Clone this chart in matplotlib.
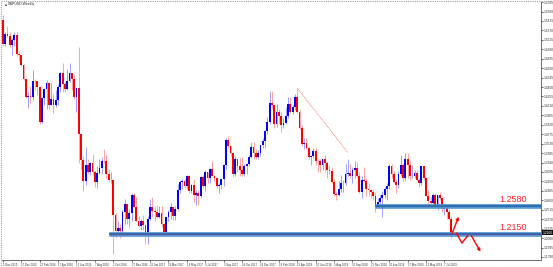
import matplotlib
matplotlib.use("Agg")
import matplotlib.pyplot as plt
from matplotlib.patches import Rectangle
import numpy as np

plt.rcParams["font.family"] = ["Liberation Sans", "DejaVu Sans"]

# ---------------- data: GBPUSD weekly candles (week starting 1 Nov 2015) ----------------
first_open = 1.5425
closes = [
    1.5063, 1.5215, 1.5190, 1.5040, 1.5125, 1.5200, 1.4900, 1.4885, 1.4735, 1.4525,
    1.4250, 1.4265, 1.4245, 1.4500, 1.4495, 1.4400, 1.3870, 1.4225, 1.4370, 1.4460,
    1.4130, 1.4220, 1.4120, 1.4200, 1.4400, 1.4615, 1.4440, 1.4370, 1.4500, 1.4620,
    1.4520, 1.4250, 1.4390, 1.3680, 1.3275, 1.2950, 1.3200, 1.3100, 1.3230, 1.3100,
    1.2940, 1.3075, 1.3160, 1.3270, 1.3265, 1.3060, 1.2970, 1.2970, 1.2430, 1.2190,
    1.2230, 1.2190, 1.2480, 1.2600, 1.2370, 1.2470, 1.2740, 1.2560, 1.2350, 1.2270,
    1.2340, 1.2280, 1.2180, 1.2370, 1.2560, 1.2490, 1.2480, 1.2410, 1.2460, 1.2290,
    1.2170, 1.2400, 1.2480, 1.2550, 1.2420, 1.2530, 1.2820, 1.2940, 1.2960, 1.2880,
    1.3030, 1.2800, 1.2890, 1.2740, 1.2780, 1.2720, 1.3020, 1.2880, 1.3090, 1.3000,
    1.3140, 1.3040, 1.3010, 1.2880, 1.2900, 1.2990, 1.3200, 1.3590, 1.3490, 1.3390,
    1.3060, 1.3290, 1.3190, 1.3130, 1.3060, 1.3190, 1.3220, 1.3330, 1.3480, 1.3390,
    1.3330, 1.3380, 1.3510, 1.3570, 1.3720, 1.3860, 1.4160, 1.4120, 1.3830, 1.4020,
    1.3960, 1.3810, 1.3840, 1.3950, 1.4140, 1.4020, 1.4090, 1.4240, 1.4010, 1.3770,
    1.3530, 1.3540, 1.3470, 1.3320, 1.3340, 1.3410, 1.3270, 1.3260, 1.3200, 1.3290,
    1.3230, 1.3130, 1.3110, 1.2940, 1.2760, 1.2740, 1.2840, 1.2920, 1.2930, 1.3070,
    1.3080, 1.3030, 1.3130, 1.3150, 1.3040, 1.2790, 1.2970, 1.2960, 1.2830, 1.2820,
    1.2790, 1.2730, 1.2580, 1.2640, 1.2700, 1.2740, 1.2840, 1.2880, 1.3190, 1.3070,
    1.2940, 1.2890, 1.3060, 1.3200, 1.3010, 1.3290, 1.3210, 1.3030, 1.3040, 1.3080,
    1.2970, 1.2920, 1.3180, 1.3000, 1.2720, 1.2650, 1.2620, 1.2740, 1.2590, 1.2740,
    1.2690, 1.2520, 1.2570, 1.2480, 1.2375, 1.2160,
]
highs = [
    1.5508, 1.5240, 1.5336, 1.5245, 1.5160, 1.5240, 1.5240, 1.4960, 1.4900, 1.4750,
    1.4530, 1.4330, 1.4410, 1.4665, 1.4530, 1.4460, 1.4410, 1.4250, 1.4390, 1.4515,
    1.4460, 1.4460, 1.4300, 1.4350, 1.4440, 1.4635, 1.4770, 1.4470, 1.4670, 1.4770,
    1.4620, 1.4590, 1.4350, 1.5018, 1.3530, 1.3345, 1.3480, 1.3300, 1.3250, 1.3375,
    1.3125, 1.3185, 1.3290, 1.3330, 1.3445, 1.3355, 1.3140, 1.3100, 1.2970, 1.2470,
    1.2335, 1.2300, 1.2510, 1.2675, 1.2600, 1.2520, 1.2775, 1.2775, 1.2710, 1.2420,
    1.2375, 1.2430, 1.2280, 1.2415, 1.2675, 1.2705, 1.2570, 1.2585, 1.2570, 1.2570,
    1.2310, 1.2400, 1.2515, 1.2615, 1.2550, 1.2580, 1.2905, 1.2965, 1.2990, 1.2985,
    1.3050, 1.3050, 1.2915, 1.2980, 1.2815, 1.2815, 1.3030, 1.3050, 1.3125, 1.3090,
    1.3150, 1.3270, 1.3050, 1.3000, 1.2930, 1.2990, 1.3225, 1.3615, 1.3655, 1.3510,
    1.3400, 1.3340, 1.3290, 1.3315, 1.3320, 1.3220, 1.3230, 1.3360, 1.3550, 1.3550,
    1.3445, 1.3440, 1.3515, 1.3615, 1.3745, 1.3945, 1.4345, 1.4345, 1.4125, 1.4145,
    1.4070, 1.4020, 1.3930, 1.4090, 1.4245, 1.4245, 1.4120, 1.4290, 1.4377, 1.4050,
    1.3810, 1.3620, 1.3615, 1.3475, 1.3360, 1.3470, 1.3470, 1.3290, 1.3300, 1.3300,
    1.3360, 1.3260, 1.3210, 1.3175, 1.2980, 1.2790, 1.2960, 1.3050, 1.2965, 1.3215,
    1.3300, 1.3215, 1.3175, 1.3260, 1.3250, 1.3090, 1.3040, 1.3175, 1.3010, 1.2930,
    1.2840, 1.2840, 1.2790, 1.2690, 1.2740, 1.2800, 1.2860, 1.2930, 1.3220, 1.3215,
    1.3110, 1.2990, 1.3110, 1.3350, 1.3240, 1.3380, 1.3380, 1.3265, 1.3195, 1.3120,
    1.3120, 1.3000, 1.3180, 1.3180, 1.3000, 1.2815, 1.2710, 1.2765, 1.2765, 1.2740,
    1.2785, 1.2700, 1.2580, 1.2580, 1.2520, 1.2420,
]
lows = [
    1.5025, 1.5030, 1.5170, 1.5017, 1.4895, 1.5030, 1.4880, 1.4805, 1.4720, 1.4515,
    1.4230, 1.4080, 1.4150, 1.4200, 1.4355, 1.4270, 1.3835, 1.3840, 1.4130, 1.4055,
    1.4055, 1.4125, 1.4005, 1.4090, 1.4120, 1.4330, 1.4330, 1.4330, 1.4350, 1.4480,
    1.4350, 1.4210, 1.4010, 1.3229, 1.3120, 1.2800, 1.2900, 1.3060, 1.3055, 1.3050,
    1.2865, 1.2850, 1.3060, 1.3070, 1.3230, 1.3000, 1.2945, 1.2925, 1.1841, 1.2085,
    1.2155, 1.2080, 1.2110, 1.2300, 1.2300, 1.2250, 1.2350, 1.2550, 1.2340, 1.2250,
    1.2200, 1.2200, 1.1985, 1.1985, 1.2360, 1.2400, 1.2345, 1.2385, 1.2385, 1.2245,
    1.2110, 1.2110, 1.2340, 1.2380, 1.2365, 1.2365, 1.2515, 1.2770, 1.2840, 1.2845,
    1.2840, 1.2775, 1.2770, 1.2635, 1.2590, 1.2590, 1.2690, 1.2845, 1.2810, 1.2930,
    1.2930, 1.3030, 1.2950, 1.2845, 1.2775, 1.2840, 1.2880, 1.3140, 1.3460, 1.3340,
    1.3025, 1.3030, 1.3100, 1.3040, 1.3040, 1.3040, 1.3060, 1.3180, 1.3310, 1.3300,
    1.3300, 1.3300, 1.3345, 1.3460, 1.3460, 1.3680, 1.3830, 1.4065, 1.3765, 1.3790,
    1.3855, 1.3710, 1.3770, 1.3830, 1.3930, 1.4000, 1.3985, 1.4050, 1.4000, 1.3750,
    1.3490, 1.3450, 1.3455, 1.3300, 1.3205, 1.3310, 1.3205, 1.3100, 1.3100, 1.3130,
    1.3100, 1.3010, 1.3060, 1.2920, 1.2725, 1.2660, 1.2730, 1.2790, 1.2785, 1.2895,
    1.3040, 1.3000, 1.2920, 1.3000, 1.3020, 1.2780, 1.2695, 1.2940, 1.2725, 1.2720,
    1.2700, 1.2660, 1.2475, 1.2575, 1.2610, 1.2400, 1.2700, 1.2670, 1.2840, 1.3000,
    1.2925, 1.2770, 1.2850, 1.3040, 1.2960, 1.2960, 1.3005, 1.2975, 1.3000, 1.3000,
    1.2960, 1.2865, 1.2900, 1.2970, 1.2720, 1.2605, 1.2560, 1.2560, 1.2590, 1.2505,
    1.2660, 1.2480, 1.2440, 1.2380, 1.2380, 1.2080,
]

date_tick_idx = [0, 8, 16, 24, 32, 40, 48, 56, 64, 72, 80, 88, 96, 104, 112, 120,
                 128, 136, 144, 152, 160, 168, 176, 184, 192]
date_labels = ["1 Nov 2015", "27 Dec 2015", "21 Feb 2016", "17 Apr 2016", "12 Jun 2016",
               "7 Aug 2016", "2 Oct 2016", "27 Nov 2016", "22 Jan 2017", "19 Mar 2017",
               "14 May 2017", "9 Jul 2017", "3 Sep 2017", "29 Oct 2017", "24 Dec 2017",
               "18 Feb 2018", "15 Apr 2018", "10 Jun 2018", "5 Aug 2018", "30 Sep 2018",
               "25 Nov 2018", "20 Jan 2019", "17 Mar 2019", "12 May 2019", "7 Jul 2019"]
price_ticks = [1.1790, 1.1935, 1.2080, 1.2225, 1.2370, 1.2515, 1.2660, 1.2805, 1.2950,
               1.3095, 1.3240, 1.3385, 1.3530, 1.3675, 1.3820, 1.3965, 1.4110, 1.4255,
               1.4400, 1.4545, 1.4690, 1.4835, 1.4980, 1.5125, 1.5270, 1.5415, 1.5560,
               1.5705]

level_values = [1.2580, 1.2150]
level_labels = ["1.2580", "1.2150"]
level_start_idx = [162, 46]
current_price = 1.2160

# drawn trend / arrow annotations (index, price)
up_arrow = ([195.4, 198.2], [1.2158, 1.2408])
zigzag = ([197.3, 199.6, 202.1], [1.2153, 1.2004, 1.2116])
down_arrow = ([203.7, 207.7], [1.2116, 1.1870])
dotted_trend = ([128, 150], [1.4385, 1.3395])

# ---------------- figure ----------------
W, H = 553, 267
fig = plt.figure(figsize=(W / 100, H / 100), dpi=100, facecolor="white")
ax = fig.add_axes([1.5 / W, (H - 259.5) / H, (541 - 1.5) / W, (259.5 - 2) / H])
ax.set_facecolor("white")

closes_a = np.array(closes)
opens_a = np.concatenate([[first_open], closes_a[:-1]])
highs_a = np.array(highs)
lows_a = np.array(lows)
x = np.arange(len(closes_a))
bull = closes_a >= opens_a
body_col = np.where(bull, "#0000ff", "#ff0000")
wick_col = np.where(bull, "#8585ff", "#ff8a8a")

ax.vlines(x, lows_a, highs_a, colors=wick_col, linewidth=0.55, zorder=2)
heights = np.maximum(np.abs(closes_a - opens_a), 0.0004)
ax.bar(x, heights, bottom=np.minimum(opens_a, closes_a), width=0.8,
       color=body_col, linewidth=0, zorder=3)

xmax = 234
# support / resistance bands
for lv, st in zip(level_values, level_start_idx):
    ax.hlines(lv, st, xmax, colors="#5b9bd5", linewidth=3.4, zorder=4)
    ax.hlines(lv, st, xmax, colors="#2e6fb0", linewidth=1.6, zorder=4)
ax.hlines(level_values[1], level_start_idx[1], xmax, colors="#6a4c9c", linewidth=0.6, zorder=5)

for lv, lab in zip(level_values, level_labels):
    ax.text(228, lv + 0.0025, lab, color="#ff2020", fontsize=6.5,
            ha="right", va="bottom", zorder=6)

# drawn arrows / lines
ax.plot(*dotted_trend, color="#ff6060", linewidth=0.6, linestyle=(0, (1, 1)), zorder=5)
for pts in (up_arrow, down_arrow):
    ax.annotate("", xy=(pts[0][1], pts[1][1]), xytext=(pts[0][0], pts[1][0]),
                arrowprops=dict(arrowstyle="-|>", color="#ff0000", lw=1.0,
                                mutation_scale=4, shrinkA=0, shrinkB=0), zorder=6)
ax.plot(*zigzag, color="#ff0000", linewidth=1.0, zorder=6)

ax.set_xlim(-0.6, xmax)
ax.set_ylim(1.1751, 1.5706)

# axes styling (MT4 look)
for s in ("top", "left"):
    ax.spines[s].set_visible(False)
for s in ("right", "bottom"):
    ax.spines[s].set_color("#555555")
    ax.spines[s].set_linewidth(0.6)
ax.yaxis.tick_right()
ax.set_yticks(price_ticks)
ax.set_yticklabels([f"{v:.4f}" for v in price_ticks])
ax.set_xticks(date_tick_idx)
ax.set_xticklabels(date_labels, ha="left")
ax.tick_params(axis="y", direction="out", length=1.5, width=0.5, pad=0.6,
               labelsize=2.3, colors="#333333")
ax.tick_params(axis="x", direction="out", length=1.5, width=0.5, pad=0.8,
               labelsize=2.0, colors="#333333")

# current price tag
ax.annotate(f"{current_price:.4f}", xy=(1.0, current_price),
            xycoords=("axes fraction", "data"), xytext=(1.3, 0),
            textcoords="offset points", fontsize=2.3, color="white",
            va="center", ha="left", annotation_clip=False,
            bbox=dict(boxstyle="square,pad=0.15", fc="#111111", ec="none"), zorder=7)

# title
fig.text(4.5 / W, 1 - 4.5 / H, "\u25a0", fontsize=2.5, color="#444444", va="center", ha="left")
fig.text(8 / W, 1 - 4.5 / H, "GBPUSD,Weekly", fontsize=2.5, color="#222222",
         va="center", ha="left")

# outer dotted frame
fig.patches.append(Rectangle((0.5 / W, 0.5 / H), 1 - 1 / W, 1 - 1 / H,
                             transform=fig.transFigure, fill=False,
                             edgecolor="#a0a0a0", linewidth=0.8, linestyle=(0, (1, 1))))

fig.savefig("out.png", dpi=100, facecolor="white")
